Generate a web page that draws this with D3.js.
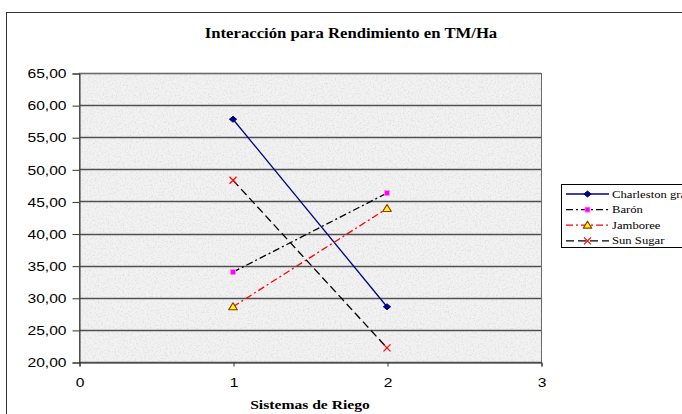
<!DOCTYPE html>
<html><head><meta charset="utf-8">
<script src="https://cdn.jsdelivr.net/npm/d3@7"></script>
<style>body{margin:0;background:#fff}svg{display:block}</style>
</head><body>
<svg id="c" width="682" height="414"></svg>
<script>
const xValues = [1, 2];
const seriesNames = ["Charleston gray", "Barón", "Jamboree", "Sun Sugar"];
const charleston = [57.8, 28.6];
const baron = [34.0, 46.3];
const jamboree = [28.6, 43.9];
const sunSugar = [48.3, 22.2];
const yTicks = [20, 25, 30, 35, 40, 45, 50, 55, 60, 65];
const xTicks = [0, 1, 2, 3];
const title = "Interacción para Rendimiento en TM/Ha";
const xTitle = "Sistemas de Riego";

const seriesValues = [charleston, baron, jamboree, sunSugar];
const styles = [
  {stroke:"#000080", dash:null, marker:"diamond", fill:"#000080", mstroke:"#000080"},
  {stroke:"#000000", dash:"7,3,2,3", marker:"square", fill:"#ff00ff", mstroke:"#ff88ee"},
  {stroke:"#ff0000", dash:"7,3,2,3", marker:"triangle", fill:"#ffff00", mstroke:"#993300"},
  {stroke:"#000000", dash:"8,4", marker:"x", fill:"none", mstroke:"#ff0000"}
];

const svg = d3.select("#c");
const m = {left:79, right:541, top:73, bottom:362};
const x = d3.scaleLinear().domain([0,3]).range([m.left, m.right]);
const y = d3.scaleLinear().domain([20,65]).range([m.bottom, m.top]);

// outer border
svg.append("rect").attr("x",6.5).attr("y",12.5).attr("width",720).attr("height",440)
  .attr("fill","#fff").attr("stroke","#333").attr("stroke-width",1);

// texture
const defs = svg.append("defs");
const f = defs.append("filter").attr("id","noise").attr("x",0).attr("y",0).attr("width","100%").attr("height","100%");
f.append("feTurbulence").attr("type","fractalNoise").attr("baseFrequency","0.6").attr("numOctaves",3).attr("seed",4);
f.append("feColorMatrix").attr("type","matrix")
  .attr("values","0 0 0 0 0.6  0 0 0 0 0.6  0 0 0 0 0.6  2.2 0 0 0 -1.0");
svg.append("rect").attr("x",m.left).attr("y",m.top).attr("width",m.right-m.left).attr("height",m.bottom-m.top)
  .attr("fill","#f2f2f2");
svg.append("rect").attr("x",m.left).attr("y",m.top).attr("width",m.right-m.left).attr("height",m.bottom-m.top)
  .attr("filter","url(#noise)").attr("opacity",0.55);

// gridlines
svg.append("g").selectAll("line").data(yTicks).join("line")
  .attr("x1",m.left).attr("x2",m.right)
  .attr("y1",d=>Math.round(y(d))+0.5).attr("y2",d=>Math.round(y(d))+0.5)
  .attr("stroke","#505050").attr("stroke-width",1.4);
svg.append("rect").attr("x",m.left+0.5).attr("y",m.top+0.5).attr("width",m.right-m.left).attr("height",m.bottom-m.top)
  .attr("fill","none").attr("stroke","#6a6a6a").attr("stroke-width",1);

// axes
const yAxis = d3.axisLeft(y).tickValues(yTicks).tickSize(7).tickPadding(6)
  .tickFormat(d=>d3.format(".2f")(d).replace(".",","));
const gy = svg.append("g").attr("transform",`translate(${m.left+0.5},0.5)`).call(yAxis);
const xAxis = d3.axisBottom(x).tickValues(xTicks).tickSize(4).tickPadding(11).tickFormat(d3.format("d"));
const gx = svg.append("g").attr("transform",`translate(0.5,${m.bottom+0.5})`).call(xAxis);
[gy,gx].forEach(g=>{
  g.select(".domain").attr("stroke","#333");
  g.selectAll(".tick line").attr("stroke","#333");
  g.selectAll("text").attr("font-family","Liberation Sans, Arial, sans-serif").attr("font-size",13).attr("fill","#000");
});
gy.selectAll("text").each(function(){
  const w = this.getComputedTextLength();
  d3.select(this).attr("textLength", w*1.2).attr("lengthAdjust","spacingAndGlyphs");
});
gx.selectAll("text").each(function(){
  const w = this.getComputedTextLength();
  d3.select(this).attr("textLength", w*1.2).attr("lengthAdjust","spacingAndGlyphs");
});

function stretch(sel, k){
  sel.each(function(){
    const w = this.getComputedTextLength();
    d3.select(this).attr("textLength", w*k).attr("lengthAdjust","spacingAndGlyphs");
  });
}

// title
const t1 = svg.append("text").attr("x",351).attr("y",38).attr("text-anchor","middle")
  .attr("font-family","Liberation Serif, Times New Roman, serif").attr("font-weight","bold").attr("font-size",14.5)
  .text(title);
stretch(t1, 1.15);
const t2 = svg.append("text").attr("x",310).attr("y",409).attr("text-anchor","middle")
  .attr("font-family","Liberation Serif, Times New Roman, serif").attr("font-weight","bold").attr("font-size",13)
  .text(xTitle);
stretch(t2, 1.2);

// series
const line = d3.line().x(d=>x(d[0])).y(d=>y(d[1]));
function drawMarker(g, st, cx, cy){
  if(st.marker==="x"){
    const s=3.5;
    g.append("path").attr("d",`M${cx-s},${cy-s}L${cx+s},${cy+s}M${cx-s},${cy+s}L${cx+s},${cy-s}`)
      .attr("stroke",st.mstroke).attr("stroke-width",1.2).attr("fill","none");
  } else if(st.marker==="diamond"){
    g.append("path").attr("d",`M${cx},${cy-3}L${cx+3.6},${cy}L${cx},${cy+3}L${cx-3.6},${cy}Z`)
      .attr("fill",st.fill).attr("stroke",st.mstroke).attr("stroke-width",1).attr("stroke-linejoin","round");
  } else if(st.marker==="square"){
    g.append("rect").attr("x",cx-2.5).attr("y",cy-2.5).attr("width",5).attr("height",5)
      .attr("fill",st.fill).attr("stroke",st.mstroke).attr("stroke-width",0.8);
  } else {
    g.append("path").attr("d",`M${cx},${cy-4}L${cx+4.3},${cy+3}L${cx-4.3},${cy+3}Z`)
      .attr("fill",st.fill).attr("stroke",st.mstroke).attr("stroke-width",1.2).attr("stroke-linejoin","round");
  }
}
seriesValues.forEach((vals,i)=>{
  const st = styles[i];
  const pts = xValues.map((xv,j)=>[xv, vals[j]]);
  const g = svg.append("g");
  g.append("path").attr("d",line(pts)).attr("fill","none").attr("stroke",st.stroke)
    .attr("stroke-width",1.3).attr("stroke-dasharray",st.dash);
  pts.forEach(p=>drawMarker(g, st, x(p[0]), y(p[1])));
});

// legend
const lg = svg.append("g");
lg.append("rect").attr("x",561.5).attr("y",184.5).attr("width",160).attr("height",63)
  .attr("fill","#fff").attr("stroke","#000").attr("stroke-width",1);
seriesNames.forEach((name,i)=>{
  const st = styles[i];
  const ly = 194 + i*15.6;
  lg.append("line").attr("x1",566).attr("x2",609).attr("y1",ly).attr("y2",ly)
    .attr("stroke",st.stroke).attr("stroke-width",1.3).attr("stroke-dasharray",st.dash);
  drawMarker(lg, st, 587.5, ly);
  const t = lg.append("text").attr("x",612).attr("y",ly+3.5)
    .attr("font-family","Liberation Serif, Times New Roman, serif").attr("font-size",11).text(name);
  stretch(t, 1.15);
});
</script>
</body></html>
